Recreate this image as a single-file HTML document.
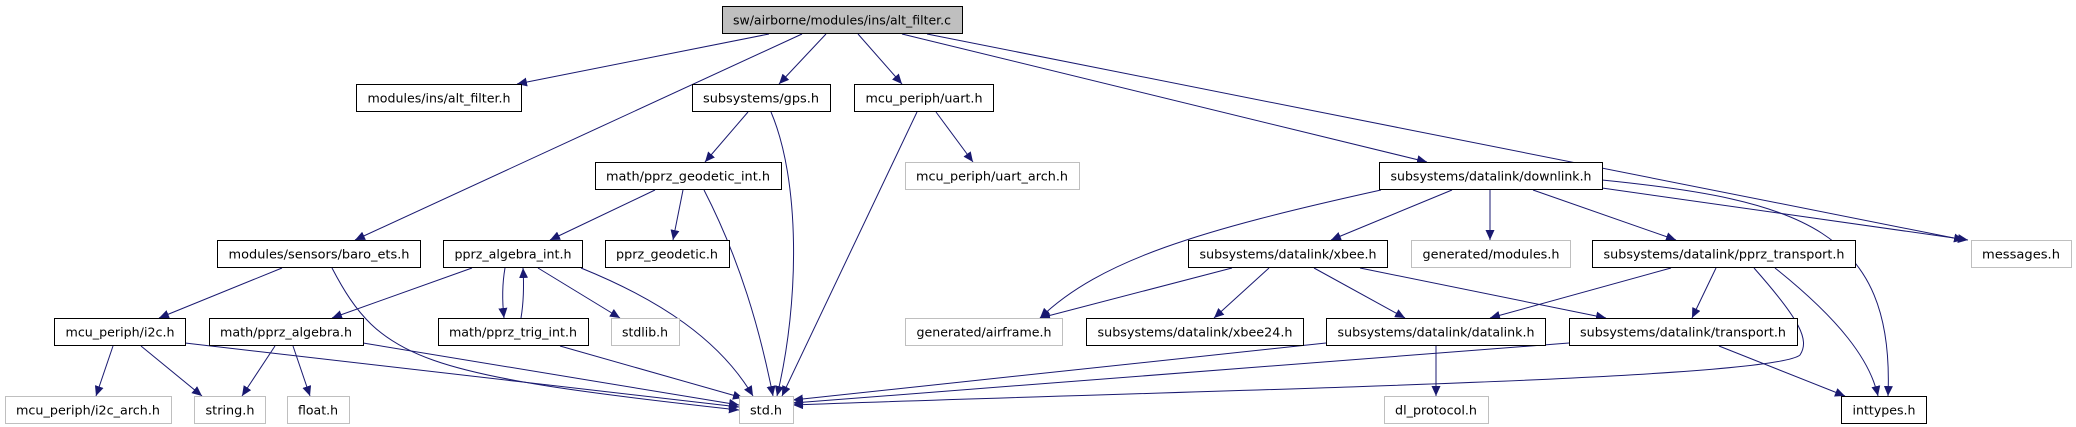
<!DOCTYPE html>
<html><head><meta charset="utf-8"><style>
html,body{margin:0;padding:0;background:#fff;}
svg{display:block;}
text{font-family:"DejaVu Sans","Liberation Sans",sans-serif;font-size:12.5px;fill:#000;text-anchor:middle;}
</style></head><body>
<svg width="2076" height="427" viewBox="0 0 2076 427" xmlns="http://www.w3.org/2000/svg">
<defs><marker id="a" markerUnits="userSpaceOnUse" markerWidth="11" markerHeight="9" refX="10" refY="4.5" orient="auto"><path d="M0,0 L10,4.5 L0,9 Z" fill="#191970"/></marker></defs>
<g fill="none" stroke="#191970" stroke-width="1" marker-end="url(#a)">
<path d="M769,34 L517,84"/>
<path d="M802,34 L355,240"/>
<path d="M826,34 L779,84"/>
<path d="M858,34 L902,84"/>
<path d="M902,34 L1427,162"/>
<path d="M927,34 L1964,240"/>
<path d="M748,112 L705,162"/>
<path d="M771,112 C800,180 800,300 777,396"/>
<path d="M936,112 L973,162"/>
<path d="M917,112 L782,396"/>
<path d="M655,190 L550,240"/>
<path d="M683,190 L673,240"/>
<path d="M704,190 C740,260 760,330 773,396"/>
<path d="M282,268 L159,318"/>
<path d="M332,268 C380,360 420,375 739,410"/>
<path d="M472,268 L332,318"/>
<path d="M505,268 C502,285 502,300 504,318"/>
<path d="M521,318 C524,300 524,285 523,268"/>
<path d="M538,268 L620,318"/>
<path d="M581,268 C660,300 720,340 753,396"/>
<path d="M113,346 L96,396"/>
<path d="M141,346 L202,396"/>
<path d="M185,343 L739,407"/>
<path d="M275,346 L242,396"/>
<path d="M293,346 L310,396"/>
<path d="M363,343 L739,405"/>
<path d="M560,346 L743,398"/>
<path d="M1381,190 C1200,230 1100,260 1040,318"/>
<path d="M1452,190 L1331,240"/>
<path d="M1490,190 L1490,240"/>
<path d="M1533,190 L1676,240"/>
<path d="M1602,188 L1968,240"/>
<path d="M1602,180 C1800,200 1895,230 1888,396"/>
<path d="M1232,268 L1040,318"/>
<path d="M1269,268 L1214,318"/>
<path d="M1314,268 L1405,318"/>
<path d="M1360,268 L1606,318"/>
<path d="M1671,268 L1490,318"/>
<path d="M1716,268 L1692,318"/>
<path d="M1754,268 C1800,320 1810,340 1800,355 C1770,380 1200,390 793,405"/>
<path d="M1775,268 C1840,320 1870,360 1878,396"/>
<path d="M1326,343 L793,400"/>
<path d="M1436,346 L1436,396"/>
<path d="M1569,343 L793,403"/>
<path d="M1719,346 L1845,396"/>
</g>
<g stroke-width="1">
<rect x="722.5" y="6.5" width="240" height="27" fill="#bfbfbf" stroke="#000"/>
<g fill="#fff" stroke="#000">
<rect x="356.5" y="84.5" width="165" height="27"/>
<rect x="692.5" y="84.5" width="138" height="27"/>
<rect x="854.5" y="84.5" width="139" height="27"/>
<rect x="595.5" y="162.5" width="186" height="27"/>
<rect x="1379.5" y="162.5" width="223" height="27"/>
<rect x="217.5" y="240.5" width="203" height="27"/>
<rect x="443.5" y="240.5" width="139" height="27"/>
<rect x="605.5" y="240.5" width="124" height="27"/>
<rect x="1188.5" y="240.5" width="199" height="27"/>
<rect x="1592.5" y="240.5" width="263" height="27"/>
<rect x="54.5" y="318.5" width="131" height="27"/>
<rect x="209.5" y="318.5" width="154" height="27"/>
<rect x="438.5" y="318.5" width="150" height="27"/>
<rect x="1086.5" y="318.5" width="217" height="27"/>
<rect x="1326.5" y="318.5" width="219" height="27"/>
<rect x="1569.5" y="318.5" width="228" height="27"/>
<rect x="1841.5" y="396.5" width="85" height="27"/>
</g>
<g fill="#fff" stroke="#bfbfbf">
<rect x="905.5" y="162.5" width="174" height="27"/>
<rect x="1411.5" y="240.5" width="159" height="27"/>
<rect x="1971.5" y="240.5" width="100" height="27"/>
<rect x="611.5" y="318.5" width="68" height="27"/>
<rect x="905.5" y="318.5" width="157" height="27"/>
<rect x="5.5" y="396.5" width="166" height="27"/>
<rect x="194.5" y="396.5" width="71" height="27"/>
<rect x="287.5" y="396.5" width="62" height="27"/>
<rect x="739.5" y="396.5" width="54" height="27"/>
<rect x="1384.5" y="396.5" width="104" height="27"/>
</g>
</g>
<g lengthAdjust="spacingAndGlyphs">
<text x="842" y="24.5" textLength="218" lengthAdjust="spacingAndGlyphs">sw/airborne/modules/ins/alt_filter.c</text>
<text x="439" y="102.5" textLength="143" lengthAdjust="spacingAndGlyphs">modules/ins/alt_filter.h</text>
<text x="761" y="102.5" textLength="116" lengthAdjust="spacingAndGlyphs">subsystems/gps.h</text>
<text x="924" y="102.5" textLength="117" lengthAdjust="spacingAndGlyphs">mcu_periph/uart.h</text>
<text x="688" y="180.5" textLength="164" lengthAdjust="spacingAndGlyphs">math/pprz_geodetic_int.h</text>
<text x="992" y="180.5" textLength="152" lengthAdjust="spacingAndGlyphs">mcu_periph/uart_arch.h</text>
<text x="1491" y="180.5" textLength="201" lengthAdjust="spacingAndGlyphs">subsystems/datalink/downlink.h</text>
<text x="319" y="258.5" textLength="181" lengthAdjust="spacingAndGlyphs">modules/sensors/baro_ets.h</text>
<text x="513" y="258.5" textLength="117" lengthAdjust="spacingAndGlyphs">pprz_algebra_int.h</text>
<text x="667" y="258.5" textLength="102" lengthAdjust="spacingAndGlyphs">pprz_geodetic.h</text>
<text x="1288" y="258.5" textLength="177" lengthAdjust="spacingAndGlyphs">subsystems/datalink/xbee.h</text>
<text x="1491" y="258.5" textLength="137" lengthAdjust="spacingAndGlyphs">generated/modules.h</text>
<text x="1724" y="258.5" textLength="241" lengthAdjust="spacingAndGlyphs">subsystems/datalink/pprz_transport.h</text>
<text x="2021" y="258.5" textLength="78" lengthAdjust="spacingAndGlyphs">messages.h</text>
<text x="120" y="336.5" textLength="109" lengthAdjust="spacingAndGlyphs">mcu_periph/i2c.h</text>
<text x="286" y="336.5" textLength="132" lengthAdjust="spacingAndGlyphs">math/pprz_algebra.h</text>
<text x="513" y="336.5" textLength="128" lengthAdjust="spacingAndGlyphs">math/pprz_trig_int.h</text>
<text x="645" y="336.5" textLength="46" lengthAdjust="spacingAndGlyphs">stdlib.h</text>
<text x="984" y="336.5" textLength="135" lengthAdjust="spacingAndGlyphs">generated/airframe.h</text>
<text x="1195" y="336.5" textLength="195" lengthAdjust="spacingAndGlyphs">subsystems/datalink/xbee24.h</text>
<text x="1436" y="336.5" textLength="197" lengthAdjust="spacingAndGlyphs">subsystems/datalink/datalink.h</text>
<text x="1683" y="336.5" textLength="206" lengthAdjust="spacingAndGlyphs">subsystems/datalink/transport.h</text>
<text x="88" y="414.5" textLength="144" lengthAdjust="spacingAndGlyphs">mcu_periph/i2c_arch.h</text>
<text x="230" y="414.5" textLength="49" lengthAdjust="spacingAndGlyphs">string.h</text>
<text x="318" y="414.5" textLength="40" lengthAdjust="spacingAndGlyphs">float.h</text>
<text x="766" y="414.5" textLength="32" lengthAdjust="spacingAndGlyphs">std.h</text>
<text x="1436" y="414.5" textLength="82" lengthAdjust="spacingAndGlyphs">dl_protocol.h</text>
<text x="1884" y="414.5" textLength="63" lengthAdjust="spacingAndGlyphs">inttypes.h</text>
</g>
</svg>
</body></html>
